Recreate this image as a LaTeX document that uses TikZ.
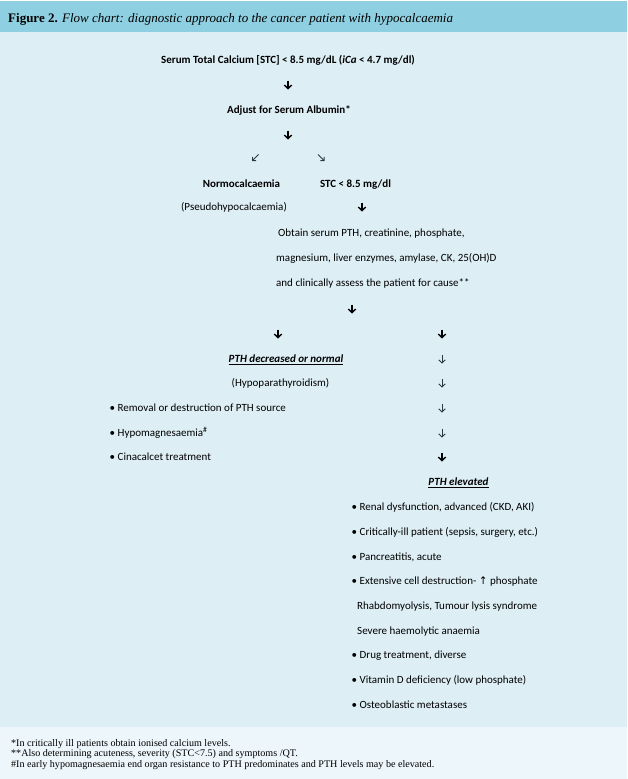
\documentclass[tikz,border=0pt]{standalone}
\usepackage{fontspec}
\setmainfont{Carlito}
\newfontfamily\serifnote{Liberation Serif}
\newfontfamily\symfont{DejaVu Sans}
\usetikzlibrary{arrows.meta}
\definecolor{hdr}{HTML}{8ED0E1}
\definecolor{bodybg}{HTML}{DDEEF5}
\definecolor{footbg}{HTML}{EDF6FA}
\definecolor{thinarr}{HTML}{2C3744}
\definecolor{ink}{HTML}{000000}
\newcommand\vdarr[3]{\draw[#1] (#2,#3-4.5) coordinate (#1s#2x#3) -- (#2,#3+4.5) coordinate (#1e#2x#3);}
\begin{document}
\begin{tikzpicture}[x=1pt,y=-1pt,
  txt/.style={inner sep=0pt, anchor=base, text=ink, font=\fontsize{11}{13}\selectfont},
  btxt/.style={txt, font=\fontsize{11}{13}\selectfont\bfseries},
  ltxt/.style={txt, anchor=base west},
  note/.style={inner sep=0pt, anchor=base west, text=ink, font=\serifnote\fontsize{10.1}{12}\selectfont},
  barrow/.style={ink, line width=1.6pt, -{Straight Barb[length=3.5pt,width=7.5pt,line width=1.4pt]}},
  tarrow/.style={thinarr, line width=0.9pt, -{Straight Barb[length=3pt,width=6.5pt,line width=0.9pt]}},
  sarrow/.style={thinarr, line width=0.8pt, -{Straight Barb[length=2.6pt,width=5.2pt,line width=0.8pt]}}
  ]
\useasboundingbox (0,0) rectangle (627,779);
\fill[white] (0,0) rectangle (627,779);
\fill[hdr] (0,1) rectangle (627,32);
\fill[bodybg] (0,32) rectangle (627,727);
\fill[footbg] (0,727) rectangle (627,779);

% title
\node[inner sep=0pt, anchor=base west, text=ink, font=\serifnote\fontsize{13}{15}\selectfont] (title) at (8,22)
  {\textbf{Figure 2.} \textit{Flow chart: diagnostic approach to the cancer patient with hypocalcaemia}};

% central column
\node[btxt] (stc) at (288,63) {Serum Total Calcium [STC] < 8.5 mg/dL (\textit{iCa} < 4.7 mg/dl)};
\vdarr{barrow}{288}{85}
\node[btxt] (adj) at (289,113.5) {Adjust for Serum Albumin*};
\vdarr{barrow}{288}{135}
\draw[sarrow] (258.5,154.5) coordinate (dla) -- (252,161) coordinate (dlb);
\draw[sarrow] (318,154.5) coordinate (dra) -- (324.5,161) coordinate (drb);
\node[btxt] (normo) at (241.5,187.5) {Normocalcaemia};
\node[btxt] (stc2) at (355.5,187.5) {STC < 8.5 mg/dl};
\node[txt] (pseudo) at (234,210.5) {(Pseudohypocalcaemia)};
\vdarr{barrow}{362}{207}
\node[ltxt] (obt1) at (278,236.5) {Obtain serum PTH, creatinine, phosphate,};
\node[ltxt] (obt2) at (276,261.5) {magnesium, liver enzymes, amylase, CK, 25(OH)D};
\node[ltxt] (obt3) at (276,286) {and clinically assess the patient for cause**};
\vdarr{barrow}{352}{309}
\vdarr{barrow}{278}{334}
\vdarr{barrow}{442}{334}

% left branch
\node[txt, font=\fontsize{11}{13}\selectfont\bfseries\itshape] (ptlow) at (286,362.5) {\underline{PTH decreased or normal}};
\node[txt] (hypo) at (280.5,386.5) {(Hypoparathyroidism)};
\node[ltxt] (l1) at (109.5,411.5) {\textbullet\ Removal or destruction of PTH source};
\node[ltxt] (l2) at (109.5,436.5) {\textbullet\ Hypomagnesaemia\textsuperscript{\#}};
\node[ltxt] (l3) at (109.5,460.5) {\textbullet\ Cinacalcet treatment};

% right column arrows
\vdarr{tarrow}{442}{359}
\vdarr{tarrow}{442}{383}
\vdarr{tarrow}{442}{408}
\vdarr{tarrow}{442}{433}
\vdarr{barrow}{442}{457}

% right branch
\node[txt, font=\fontsize{11}{13}\selectfont\bfseries\itshape] (pthigh) at (458.5,485.5) {\underline{PTH elevated}};
\node[ltxt] (r1) at (351.5,510) {\textbullet\ Renal dysfunction, advanced (CKD, AKI)};
\node[ltxt] (r2) at (351.5,535) {\textbullet\ Critically-ill patient (sepsis, surgery, etc.)};
\node[ltxt] (r3) at (351.5,560) {\textbullet\ Pancreatitis, acute};
\node[ltxt] (r4) at (351.5,584.5) {\textbullet\ Extensive cell destruction- {\symfont\fontsize{10.5}{12}\selectfont ↑} phosphate};
\node[ltxt] (r5) at (357,609.5) {Rhabdomyolysis, Tumour lysis syndrome};
\node[ltxt] (r6) at (357,634.5) {Severe haemolytic anaemia};
\node[ltxt] (r7) at (351.5,658.5) {\textbullet\ Drug treatment, diverse};
\node[ltxt] (r8) at (351.5,683.5) {\textbullet\ Vitamin D deficiency (low phosphate)};
\node[ltxt] (r9) at (351.5,708.5) {\textbullet\ Osteoblastic metastases};

% footnotes
\node[note] (n1) at (11,746) {*In critically ill patients obtain ionised calcium levels.};
\node[note] (n2) at (11,756.5) {**Also determining acuteness, severity (STC<7.5) and symptoms /QT.};
\node[note] (n3) at (11,767) {\#In early hypomagnesaemia end organ resistance to PTH predominates and PTH levels may be elevated.};
\end{tikzpicture}
\end{document}
